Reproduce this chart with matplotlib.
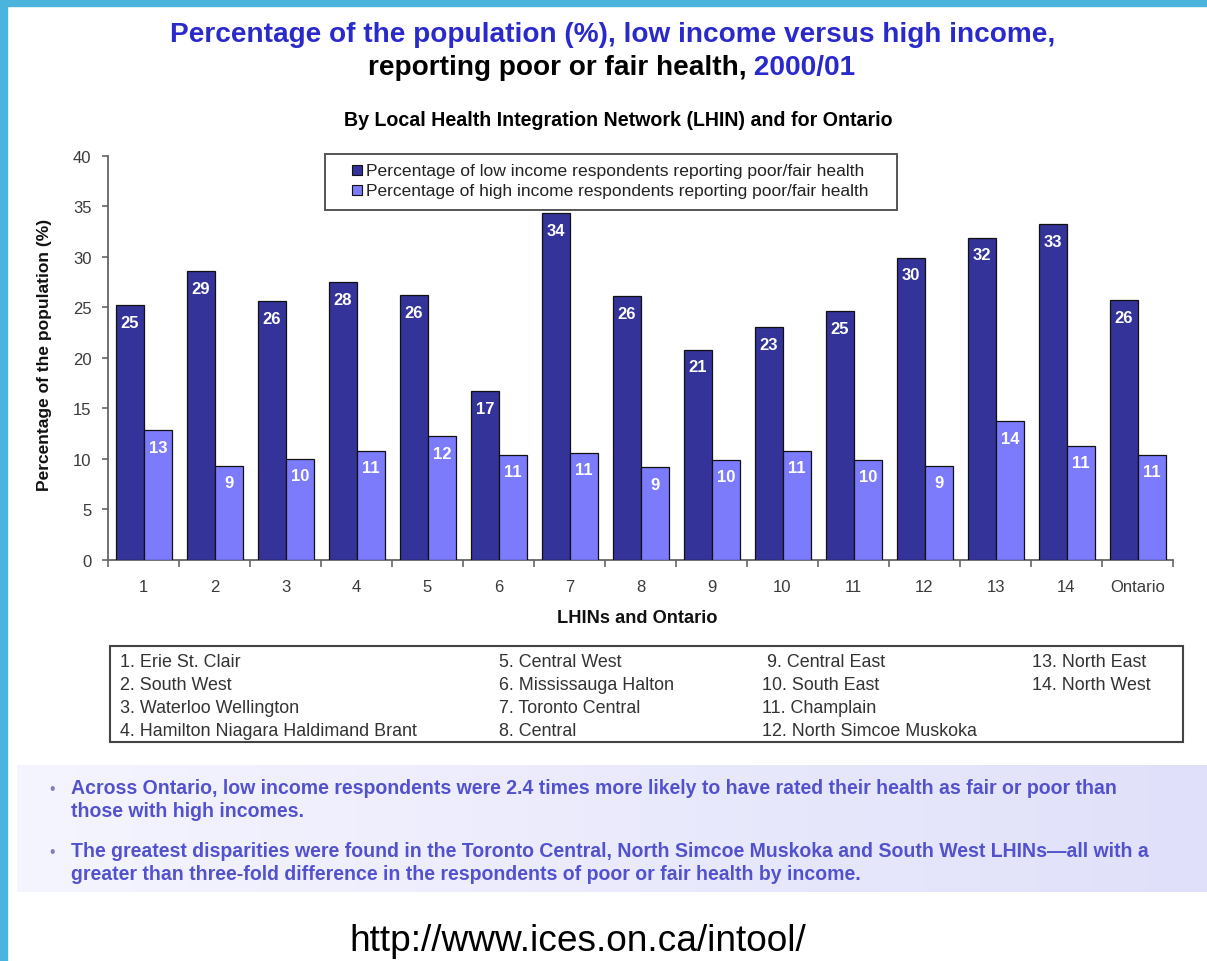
import matplotlib
matplotlib.use("Agg")
import matplotlib.pyplot as plt
from matplotlib.patches import Rectangle
import numpy as np

# ---------------- data ----------------
categories = ["1", "2", "3", "4", "5", "6", "7", "8", "9", "10", "11", "12", "13", "14", "Ontario"]
low_income = [25.2, 28.6, 25.6, 27.5, 26.2, 16.7, 34.3, 26.1, 20.8, 23.0, 24.6, 29.9, 31.9, 33.2, 25.7]
high_income = [12.8, 9.3, 10.0, 10.8, 12.2, 10.4, 10.6, 9.2, 9.9, 10.8, 9.9, 9.3, 13.7, 11.3, 10.4]
low_labels = [25, 29, 26, 28, 26, 17, 34, 26, 21, 23, 25, 30, 32, 33, 26]
high_labels = [13, 9, 10, 11, 12, 11, 11, 9, 10, 11, 10, 9, 14, 11, 11]
series_names = ["Percentage of low income respondents reporting poor/fair health",
                "Percentage of high income respondents reporting poor/fair health"]
lhin_key = [
    ["1. Erie St. Clair", "2. South West", "3. Waterloo Wellington", "4. Hamilton Niagara Haldimand Brant"],
    ["5. Central West", "6. Mississauga Halton", "7. Toronto Central", "8. Central"],
    [" 9. Central East", "10. South East", "11. Champlain", "12. North Simcoe Muskoka"],
    ["13. North East", "14. North West", "", ""],
]
bullets = [
    ["Across Ontario, low income respondents were 2.4 times more likely to have rated their health as fair or poor than",
     "those with high incomes."],
    ["The greatest disparities were found in the Toronto Central, North Simcoe Muskoka and South West LHINs\u2014all with a",
     "greater than three-fold difference in the respondents of poor or fair health by income."],
]
title1 = "Percentage of the population (%), low income versus high income,"
title2a = "reporting poor or fair health,"
title2b = " 2000/01"
subtitle = "By Local Health Integration Network (LHIN) and for Ontario"
ylabel = "Percentage of the population (%)"
xlabel = "LHINs and Ontario"
url = "http://www.ices.on.ca/intool/"

# ---------------- style ----------------
LOW_C = "#333399"
HIGH_C = "#7B7BFB"
TITLE_BLUE = "#2A2ACC"
TEXT_BLUE = "#5252CF"
BORDER = "#4AB4DC"
FONT = ["Liberation Sans", "DejaVu Sans"]
plt.rcParams["font.family"] = FONT

W, H = 1207, 962
fig = plt.figure(figsize=(W / 100, H / 100), dpi=100)
fig.patch.set_facecolor("white")


def fx(x):
    return x / W


def fy(y):
    return 1 - y / H


renderer = fig.canvas.get_renderer()


def fit_width(t, target):
    bb = t.get_window_extent(renderer)
    t.set_fontsize(t.get_fontsize() * target / bb.width)
    return t


def fit_height(t, target):
    bb = t.get_window_extent(renderer)
    t.set_fontsize(t.get_fontsize() * target / bb.height)
    return t


# border stripes
fig.patches.append(Rectangle((0, 0), fx(7), 1, transform=fig.transFigure, color=BORDER, zorder=10))
fig.patches.append(Rectangle((0, fy(7)), 1, 7 / H, transform=fig.transFigure, color=BORDER, zorder=10))

# ---------------- titles ----------------
t1 = fig.text(fx(613), fy(42), title1, ha="center", va="baseline", fontsize=15,
              fontweight="bold", color=TITLE_BLUE)
fit_width(t1, 890)
fs_title = t1.get_fontsize()
t2a = fig.text(0, fy(75), title2a, ha="left", va="baseline", fontsize=fs_title,
               fontweight="bold", color="black")
t2b = fig.text(0, fy(75), title2b, ha="left", va="baseline", fontsize=fs_title,
               fontweight="bold", color=TITLE_BLUE)
wa = t2a.get_window_extent(renderer).width
wb = t2b.get_window_extent(renderer).width
x0 = 611.5 - (wa + wb) / 2
t2a.set_x(fx(x0))
t2b.set_x(fx(x0 + wa))

st = fig.text(fx(618), fy(126), subtitle, ha="center", va="baseline", fontsize=11,
              fontweight="bold", color="black")
fit_width(st, 548)

# ---------------- chart ----------------
ax_left, ax_right, ax_top, ax_bot = 108, 1173, 156.7, 560.7
ax = fig.add_axes([fx(ax_left), fy(ax_bot), (ax_right - ax_left) / W, (ax_bot - ax_top) / H])
x = np.arange(len(categories))
bw = 0.395
b1 = ax.bar(x - 0.19, low_income, bw, color=LOW_C, edgecolor="#111111", linewidth=0.9, zorder=3)
b2 = ax.bar(x + 0.205, high_income, bw, color=HIGH_C, edgecolor="#111111", linewidth=0.9, zorder=3)
for rect, lab in zip(b1, low_labels):
    ax.annotate(str(lab), (rect.get_x() + rect.get_width() / 2, rect.get_height()),
                xytext=(0, -7), textcoords="offset points", ha="center", va="top",
                color="white", fontweight="bold", fontsize=12, zorder=4)
for rect, lab in zip(b2, high_labels):
    ax.annotate(str(lab), (rect.get_x() + rect.get_width() / 2, rect.get_height()),
                xytext=(0, -7), textcoords="offset points", ha="center", va="top",
                color="white", fontweight="bold", fontsize=12, zorder=4)

ax.set_xlim(-0.5, len(categories) - 0.5)
ax.set_ylim(0, 40)
ax.set_yticks(np.arange(0, 41, 5))
ax.set_xticks(x)
ax.set_xticklabels(categories)
ax.set_xticks(np.arange(-0.5, len(categories), 1), minor=True)
ax.tick_params(axis="x", which="major", length=0, pad=14, labelsize=12, labelcolor="#3a3a3a")
ax.tick_params(axis="x", which="minor", length=5, width=1.2, color="#666666", direction="out")
ax.tick_params(axis="y", length=4, width=1.2, color="#666666", pad=8, labelsize=12, labelcolor="#3a3a3a")
for s in ["top", "right"]:
    ax.spines[s].set_visible(False)
for s in ["left", "bottom"]:
    ax.spines[s].set_color("#666666")
    ax.spines[s].set_linewidth(1.3)
ax.set_facecolor("none")

yl = fig.text(fx(45), fy(355), ylabel, rotation=90, ha="center", va="center",
              fontsize=10, fontweight="bold", color="#111111")
fit_height(yl, 272)
xl = fig.text(fx(637), fy(623), xlabel, ha="center", va="baseline",
              fontsize=10, fontweight="bold", color="#111111")
fit_width(xl, 160)

# ---------------- legend ----------------
fig.patches.append(Rectangle((fx(325), fy(211)), (897 - 325) / W, (211 - 155) / H,
                             transform=fig.transFigure, facecolor="white",
                             edgecolor="#555555", linewidth=1.4, zorder=5))
leg_cols = [LOW_C, HIGH_C]
leg_base = [176, 196]
leg_targets = [499, 505]
for name, col, yb, tw in zip(series_names, leg_cols, leg_base, leg_targets):
    fig.patches.append(Rectangle((fx(352), fy(yb)), 10 / W, 10 / H, transform=fig.transFigure,
                                 facecolor=col, edgecolor="#111111", linewidth=0.8, zorder=6))
    lt = fig.text(fx(366), fy(yb), name, ha="left", va="baseline", fontsize=10,
                  color="#222222", zorder=6)
    fit_width(lt, tw)

# ---------------- LHIN key box ----------------
fig.patches.append(Rectangle((fx(110), fy(743)), (1183 - 110) / W, (743 - 647) / H,
                             transform=fig.transFigure, facecolor="white",
                             edgecolor="#444444", linewidth=1.5, zorder=2))
col_x = [120, 499, 762, 1032]
row_y = [667, 690, 713, 736]
probe = fig.text(0, 0, lhin_key[0][3], fontsize=10)
fit_width(probe, 297)
fs_key = probe.get_fontsize()
probe.remove()
for cx, col in zip(col_x, lhin_key):
    for ry, item in zip(row_y, col):
        if item:
            fig.text(fx(cx), fy(ry), item, ha="left", va="baseline", fontsize=fs_key,
                     color="#333333", zorder=3)

# ---------------- bottom panel ----------------
pax = fig.add_axes([fx(17), fy(893), (W - 17) / W, (893 - 766) / H], zorder=-1)
grad = np.linspace(0, 1, 256)[None, :, None]
c_left = np.array([0xF5, 0xF5, 0xFF]) / 255
c_right = np.array([0xE0, 0xE0, 0xFA]) / 255
img = c_left * (1 - grad) + c_right * grad
pax.imshow(img, aspect="auto", extent=[0, 1, 0, 1])
pax.set_axis_off()

probe = fig.text(0, 0, bullets[0][0], fontsize=10, fontweight="bold")
fit_width(probe, 1049)
fs_b = probe.get_fontsize()
probe.remove()
line_base = [[794, 817], [857, 880]]
for para, bases in zip(bullets, line_base):
    fig.text(fx(52), fy(bases[0]), "\u2022", ha="center", va="baseline", fontsize=fs_b * 0.8,
             color="#8080C0")
    for line, yb in zip(para, bases):
        fig.text(fx(71), fy(yb), line, ha="left", va="baseline", fontsize=fs_b,
                 fontweight="bold", color=TEXT_BLUE)

ut = fig.text(fx(578), fy(951), url, ha="center", va="baseline", fontsize=26, color="black")
fit_width(ut, 456)

fig.savefig("out.png", dpi=100)
